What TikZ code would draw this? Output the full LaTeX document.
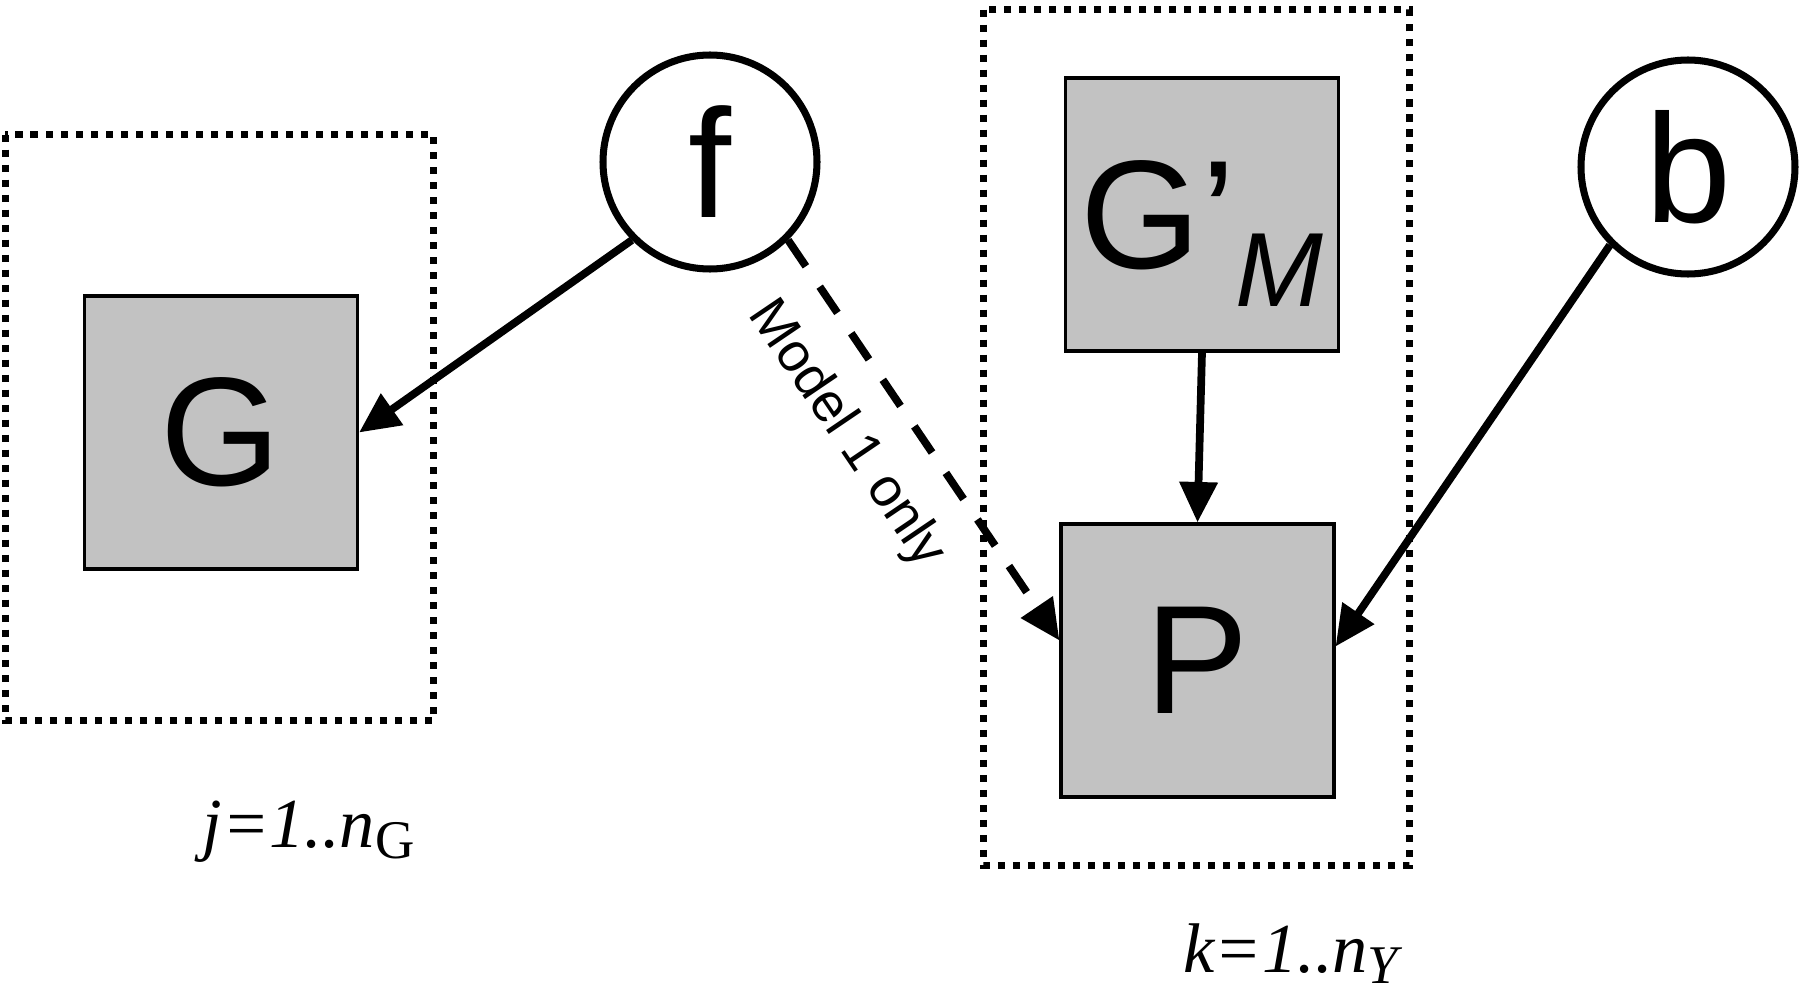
\documentclass[tikz,border=0pt]{standalone}
\usepackage{fontspec}
\setmainfont{Liberation Serif}
\setsansfont{Liberation Sans}
\usetikzlibrary{arrows.meta}
\definecolor{boxgray}{gray}{0.76}

\begin{document}
\begin{tikzpicture}[
  varbox/.style={draw, fill=boxgray, line width=0.9pt, minimum size=2.73cm, inner sep=0pt, font=\sffamily\fontsize{44}{50}\selectfont},
  param/.style={draw, circle, line width=2pt, minimum size=2.14cm, inner sep=0pt, font=\sffamily\fontsize{44}{50}\selectfont},
  plate/.style={line width=2pt, dash pattern=on 2pt off 2.27pt},
  link/.style={line width=2.2pt, -{Triangle[length=11.5pt, width=10.5pt]}},
  idx/.style={font=\fontsize{20}{24}\selectfont\itshape, anchor=base west, inner sep=0pt}
]
  \useasboundingbox (0, 0) rectangle (18, -9.93);
  \draw[plate] (0.055, -1.345) rectangle (4.335, -7.205);
  \draw[plate] (9.835, -0.095) rectangle (14.095, -8.655);
  \node[varbox] (G) at (2.21, -4.325) {G};
  \node[varbox, text depth=0pt] (GM) at (12.02, -2.145) {G\textquoteright\raisebox{-0.38cm}{\fontsize{30}{30}\selectfont\itshape M}};
  \node[varbox] (P) at (11.975, -6.605) {P};
  \node[param] (f) at (7.10, -1.62) {f};
  \node[param] (b) at (16.88, -1.67) {b};
  \draw[link] (f.225) -- (G.east);
  \draw[link, dash pattern=on 9pt off 7pt] (f.-45) -- node[sloped, below=7pt, pos=0.4, inner sep=2pt, font=\sffamily\fontsize{15.5}{18}\selectfont] (only) {Model 1 only} ([yshift=0.2cm]P.west);
  \draw[link] (GM.south) -- (P.north);
  \draw[link] (b.225) -- ([yshift=0.14cm]P.east);
  \node[idx] (jrange) at (2.02, -8.47) {j=1..n\raisebox{-0.11cm}{\fontsize{15.5}{16}\selectfont\upshape G}};
  \node[idx] (krange) at (11.83, -9.72) {k=1..n\raisebox{-0.11cm}{\fontsize{15.5}{16}\selectfont Y}};
\end{tikzpicture}
\end{document}
